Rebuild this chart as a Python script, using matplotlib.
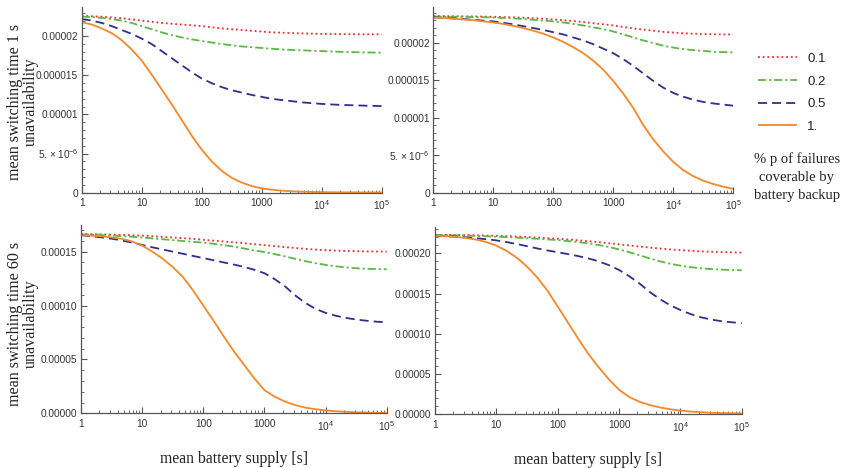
import matplotlib
matplotlib.use("Agg")
import matplotlib.pyplot as plt
from matplotlib.ticker import FixedLocator, FixedFormatter, AutoMinorLocator, LogLocator, NullFormatter
import numpy as np

plt.rcParams['mathtext.fontset'] = 'custom'
plt.rcParams['mathtext.rm'] = 'Liberation Sans'
plt.rcParams['mathtext.it'] = 'Liberation Sans'

# ---------------- data ----------------
battery = [1, 1.468, 2.154, 3.162, 4.642, 6.813, 10, 14.68, 21.54, 31.62, 46.42, 68.13,
           100, 146.8, 215.4, 316.2, 464.2, 681.3, 1000, 1468, 2154, 3162, 4642, 6813,
           1e4, 14678, 21544, 31623, 46416, 68129, 1e5]
p_labels = ["0.1", "0.2", "0.5", "1."]

# switching time 1 s (top-left), unavailability in 1e-6
tl_p01 = [22.6, 22.55, 22.5, 22.4, 22.3, 22.15, 22.0, 21.85, 21.7, 21.6, 21.5, 21.4, 21.3, 21.15, 21.0, 20.9,
          20.8, 20.7, 20.6, 20.5, 20.45, 20.4, 20.36, 20.33, 20.3, 20.28, 20.27, 20.26, 20.25, 20.25, 20.25]
tl_p02 = [22.5, 22.45, 22.35, 22.2, 22.0, 21.7, 21.3, 20.9, 20.5, 20.15, 19.85, 19.6, 19.4, 19.2, 19.0, 18.85,
          18.7, 18.6, 18.5, 18.4, 18.32, 18.25, 18.2, 18.15, 18.1, 18.05, 18.0, 17.97, 17.94, 17.92, 17.9]
tl_p05 = [22.2, 22.0, 21.7, 21.3, 20.8, 20.3, 19.7, 19.0, 18.1, 17.2, 16.3, 15.4, 14.6, 14.0, 13.5, 13.1,
          12.8, 12.5, 12.25, 12.0, 11.85, 11.7, 11.55, 11.45, 11.35, 11.28, 11.22, 11.18, 11.14, 11.1, 11.07]
tl_p10 = [21.8, 21.5, 21.0, 20.4, 19.5, 18.3, 16.9, 15.1, 13.2, 11.3, 9.3, 7.3, 5.5, 4.0, 2.8, 1.9,
          1.3, 0.85, 0.55, 0.38, 0.26, 0.18, 0.13, 0.10, 0.08, 0.06, 0.05, 0.045, 0.04, 0.035, 0.03]

# top-right, unavailability in 1e-6
tr_p01 = [23.55, 23.54, 23.53, 23.52, 23.5, 23.48, 23.45, 23.42, 23.38, 23.33, 23.27, 23.2, 23.1, 23.0, 22.9, 22.75,
          22.6, 22.45, 22.3, 22.1, 21.9, 21.75, 21.6, 21.45, 21.35, 21.25, 21.2, 21.15, 21.12, 21.1, 21.1]
tr_p02 = [23.5, 23.48, 23.46, 23.44, 23.42, 23.4, 23.35, 23.3, 23.25, 23.15, 23.05, 22.95, 22.85, 22.7, 22.5, 22.3,
          22.05, 21.8, 21.5, 21.1, 20.7, 20.3, 19.95, 19.6, 19.35, 19.15, 19.0, 18.9, 18.8, 18.75, 18.7]
tr_p05 = [23.4, 23.3, 23.25, 23.15, 23.05, 22.95, 22.85, 22.65, 22.45, 22.2, 21.95, 21.7, 21.4, 21.1, 20.7, 20.3,
          19.8, 19.2, 18.6, 17.8, 16.9, 15.9, 14.9, 14.0, 13.3, 12.8, 12.4, 12.1, 11.9, 11.75, 11.6]
tr_p10 = [23.35, 23.3, 23.2, 23.1, 23.0, 22.85, 22.7, 22.5, 22.25, 21.95, 21.6, 21.2, 20.7, 20.1, 19.4, 18.6,
          17.6, 16.4, 14.9, 13.2, 11.3, 9.0, 7.1, 5.5, 4.1, 3.0, 2.2, 1.6, 1.15, 0.8, 0.5]

# switching time 60 s (bottom-left), unavailability in 1e-6
bl_p01 = [166.3, 166.2, 166.0, 165.8, 165.5, 165.2, 164.8, 164.3, 163.7, 163.1, 162.5, 161.8, 161.0, 160.2, 159.4, 158.6,
          157.8, 156.9, 156.0, 155.1, 154.2, 153.4, 152.6, 151.9, 151.3, 150.9, 150.6, 150.4, 150.2, 150.1, 150.0]
bl_p02 = [166.0, 165.7, 165.3, 164.9, 164.4, 163.8, 163.1, 162.3, 161.5, 160.7, 159.9, 159.1, 158.3, 157.3, 156.1, 154.6,
          152.9, 151.1, 149.6, 147.7, 145.6, 143.4, 141.2, 139.3, 137.7, 136.4, 135.4, 134.6, 134.1, 133.8, 133.6]
bl_p05 = [165.3, 164.3, 163.2, 162.0, 160.4, 158.4, 156.2, 154.0, 152.0, 150.0, 148.0, 146.0, 144.0, 142.0, 140.0, 138.0,
          135.8, 133.2, 130.0, 124.5, 118.0, 109.5, 102.5, 97.0, 93.2, 90.5, 88.5, 87.0, 85.9, 85.0, 84.4]
bl_p10 = [165.2, 164.8, 164.2, 163.3, 161.9, 159.5, 155.6, 150.0, 143.5, 135.8, 126.5, 114.0, 100.0, 86.0, 71.5, 57.5,
          45.0, 32.5, 21.5, 15.5, 11.0, 7.6, 5.3, 3.8, 2.7, 1.9, 1.4, 0.95, 0.65, 0.45, 0.3]

# bottom-right, unavailability in 1e-6
br_p01 = [222.9, 222.8, 222.7, 222.5, 222.3, 222.0, 221.7, 221.3, 220.8, 220.2, 219.5, 218.8, 218.0, 217.1, 216.1, 215.0,
          213.8, 212.5, 211.1, 209.7, 208.4, 207.1, 205.9, 204.8, 203.9, 203.1, 202.4, 201.9, 201.5, 201.1, 200.8]
br_p02 = [222.8, 222.6, 222.3, 222.0, 221.6, 221.1, 220.6, 220.0, 219.4, 218.7, 218.0, 217.2, 216.3, 215.2, 213.9, 212.3,
          210.3, 207.8, 204.8, 201.3, 197.5, 193.6, 190.0, 187.0, 184.6, 182.8, 181.4, 180.4, 179.7, 179.2, 178.9]
br_p05 = [221.8, 221.3, 220.6, 219.8, 218.7, 217.5, 216.0, 213.9, 211.5, 208.8, 206.0, 203.5, 201.3, 199.0, 196.5, 193.6,
          190.0, 185.3, 179.3, 171.5, 162.5, 152.0, 143.0, 135.5, 129.5, 124.5, 120.5, 117.7, 115.7, 114.3, 113.2]
br_p10 = [221.8, 221.2, 220.3, 219.0, 217.0, 214.0, 209.5, 203.0, 194.5, 183.5, 170.0, 153.5, 134.0, 114.0, 94.0, 75.0,
          58.5, 43.5, 30.5, 21.5, 15.5, 11.5, 8.5, 6.3, 4.6, 3.4, 2.6, 2.0, 1.6, 1.3, 1.1]

x_ticks = [1, 10, 100, 1000, 1e4, 1e5]
x_ticklabels = ["1", "10", "100", "1000", r"$10^4$", r"$10^5$"]

tl_yticks = [0, 5e-6, 1e-5, 1.5e-5, 2e-5]
tl_yticklabels = ["0", r"$5.\times10^{-6}$", "0.00001", "0.000015", "0.00002"]
bl_yticks = [0, 5e-5, 1e-4, 1.5e-4]
bl_yticklabels = ["0.00000", "0.00005", "0.00010", "0.00015"]
br_yticks = [0, 5e-5, 1e-4, 1.5e-4, 2e-4]
br_yticklabels = ["0.00000", "0.00005", "0.00010", "0.00015", "0.00020"]

ylabel_1s = "mean switching time 1 s\nunavailability"
ylabel_60s = "mean switching time 60 s\nunavailability"
xlabel = "mean battery supply [s]"
legend_title = "% p of failures\ncoverable by\nbattery backup"

# ---------------- styles ----------------
colors = ["#e8302c", "#5cb845", "#2f2f8c", "#f5892a"]
styles = [(0, (1.0, 1.6)), (0, (4.5, 1.6, 1.2, 1.6)), (0, (5.0, 2.8)), "-"]
lw = 1.3

fig = plt.figure(figsize=(8.45, 4.68), dpi=100)
W, H = 845.0, 468.0

panels = [
    dict(rect=[81.7, 7.3, 381.7, 192.7], data=[tl_p01, tl_p02, tl_p05, tl_p10], ymax=23.7e-6,
         yt=tl_yticks, ytl=tl_yticklabels, ylabel=ylabel_1s, ylab_y=102, xlabel=None),
    dict(rect=[433.3, 6.7, 733.3, 192.7], data=[tr_p01, tr_p02, tr_p05, tr_p10], ymax=24.8e-6,
         yt=tl_yticks, ytl=tl_yticklabels, ylabel=None, xlabel=None),
    dict(rect=[81.0, 225.0, 386.7, 413.3], data=[bl_p01, bl_p02, bl_p05, bl_p10], ymax=174.7e-6,
         yt=bl_yticks, ytl=bl_yticklabels, ylabel=ylabel_60s, ylab_y=324, xlabel=xlabel),
    dict(rect=[435.0, 226.7, 741.7, 414.3], data=[br_p01, br_p02, br_p05, br_p10], ymax=233e-6,
         yt=br_yticks, ytl=br_yticklabels, ylabel=None, xlabel=xlabel),
]

handles = []
for pi, p in enumerate(panels):
    x0, y0, x1, y1 = p["rect"]
    ax = fig.add_axes([x0 / W, 1 - y1 / H, (x1 - x0) / W, (y1 - y0) / H])
    for k, series in enumerate(p["data"]):
        ln, = ax.plot(battery, np.array(series) * 1e-6, color=colors[k], ls=styles[k], lw=lw,
                      solid_capstyle="butt", dash_capstyle="butt")
        if pi == 0:
            handles.append(ln)
    ax.set_xscale("log")
    ax.set_xlim(1, 1e5)
    ax.set_ylim(0, p["ymax"])
    for s in ["top", "right"]:
        ax.spines[s].set_visible(False)
    for s in ["left", "bottom"]:
        ax.spines[s].set_color("#555555")
        ax.spines[s].set_linewidth(0.9)
    ax.xaxis.set_major_locator(FixedLocator(x_ticks))
    ax.xaxis.set_major_formatter(FixedFormatter(x_ticklabels))
    ax.xaxis.set_minor_locator(LogLocator(base=10, subs=np.arange(2, 10), numticks=20))
    ax.xaxis.set_minor_formatter(NullFormatter())
    ax.yaxis.set_major_locator(FixedLocator(p["yt"]))
    ax.yaxis.set_major_formatter(FixedFormatter(p["ytl"]))
    ax.yaxis.set_minor_locator(AutoMinorLocator(5))
    ax.tick_params(which="major", direction="in", length=4, width=0.8, color="#555555",
                   labelsize=7.3, labelcolor="#333333")
    ax.tick_params(axis="y", which="major", pad=2.5)
    ax.tick_params(axis="x", which="major", pad=4)
    ax.tick_params(which="minor", direction="in", length=2, width=0.6, color="#555555")
    for lab in ax.get_xticklabels() + ax.get_yticklabels():
        lab.set_fontfamily("Liberation Sans")
    if p["ylabel"]:
        fig.text(23 / W, 1 - p["ylab_y"] / H, p["ylabel"], rotation=90, ha="center", va="center",
                 multialignment="center", fontfamily="Liberation Serif", fontsize=11.6,
                 color="#222222", linespacing=1.05)
    if p["xlabel"]:
        ax.set_xlabel(p["xlabel"], fontfamily="Liberation Serif", fontsize=11.3, color="#222222")
        ax.xaxis.set_label_coords(0.5, -0.2)

leg = fig.legend(handles, p_labels, loc="upper left", bbox_to_anchor=(746 / W, 1 - 41 / H),
                 frameon=False, handlelength=3.0, handletextpad=0.75, labelspacing=0.78,
                 prop={"family": "Liberation Sans", "size": 9.5})
for t in leg.get_texts():
    t.set_color("#222222")
fig.text(797 / W, 1 - 177 / H, legend_title, ha="center", va="center",
         fontfamily="Liberation Serif", fontsize=10.5, color="#222222", linespacing=1.5)

fig.savefig("out.png", dpi=100)
